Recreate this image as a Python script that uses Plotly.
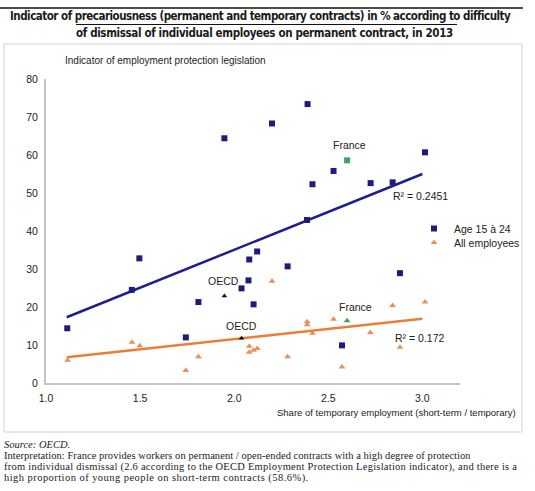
import plotly.graph_objects as go

# ---------------- data ----------------
age_x = [1.948, 2.201, 2.390, 2.528, 2.416, 2.725, 2.842, 3.014, 2.387, 1.113,
         1.456, 1.496, 1.810, 1.743, 2.080, 2.122, 2.076, 2.039, 2.103, 2.284,
         2.881, 2.573]
age_y = [64.4, 68.3, 73.4, 55.8, 52.3, 52.6, 52.8, 60.7, 42.9, 14.4,
         24.5, 32.8, 21.3, 12.0, 32.5, 34.6, 27.0, 24.9, 20.7, 30.7,
         28.9, 9.9]

all_x = [1.115, 1.457, 1.498, 1.743, 1.810, 2.201, 2.080, 2.080, 2.103, 2.122,
         2.284, 2.388, 2.388, 2.416, 2.528, 2.573, 2.723, 2.842, 3.014, 2.881]
all_y = [6.0, 10.7, 9.8, 3.3, 6.9, 26.8, 9.7, 8.1, 8.6, 9.1,
         6.9, 16.1, 15.3, 13.1, 16.8, 4.2, 13.2, 20.4, 21.3, 9.4]

france_x = 2.6
france_age_y = 58.6
france_all_y = 16.4

oecd_age_x, oecd_age_y = 1.948, 22.9
oecd_all_x, oecd_all_y = 2.039, 11.8

trend_x = [1.11, 3.0]
age_trend_y = [17.3, 55.0]
all_trend_y = [6.8, 16.9]

r2_age = "R² = 0.2451"
r2_all = "R² = 0.172"

x_ticks = [1.0, 1.5, 2.0, 2.5, 3.0]
y_ticks = [0, 10, 20, 30, 40, 50, 60, 70, 80]

title_line1 = "Indicator of precariousness (permanent and temporary contracts) in % according to difficulty"
title_line2 = "of dismissal of individual employees on permanent contract, in 2013"
y_title = "Indicator of employment protection legislation"
x_title = "Share of temporary employment (short-term / temporary)"
source_text = "Source: OECD."
interp_lines = [
    "Interpretation: France provides workers on permanent / open-ended contracts with a high degree of protection",
    "from individual dismissal (2.6 according to the OECD Employment Protection Legislation indicator), and there is a",
    "high proportion of young people on short-term contracts (58.6%).",
]

# ---------------- styling ----------------
NAVY = "#1c1c7e"
ORANGE = "#ec7d35"
TRI = "#e8905a"
GREEN = "#3aa562"
SANS = "Liberation Sans, Arial, sans-serif"
SERIF = "Liberation Serif, Times New Roman, serif"
TITLE_FONT = "DejaVu Sans Condensed, DejaVu Sans, sans-serif"
TXT = "#222222"

W, H = 535, 491
L, R, T, B = 46, 75, 79, 108
pw = W - L - R
ph = H - T - B


def px_x(px):
    return (px - L) / pw


def px_y(py):
    return (H - B - py) / ph


def spaced(text, ls):
    return '<span style="letter-spacing:%spx">%s</span>' % (ls, text)


fig = go.Figure()

# trend lines
fig.add_trace(go.Scatter(x=trend_x, y=age_trend_y, mode="lines",
                         line=dict(color="#1f1f8c", width=2.5), showlegend=False, hoverinfo="skip"))
fig.add_trace(go.Scatter(x=trend_x, y=all_trend_y, mode="lines",
                         line=dict(color=ORANGE, width=2.5), showlegend=False, hoverinfo="skip"))

# series
fig.add_trace(go.Scatter(x=age_x, y=age_y, mode="markers", name="Age 15 à 24", legend="legend",
                         marker=dict(symbol="square", size=6, color=NAVY)))
fig.add_trace(go.Scatter(x=all_x, y=all_y, mode="markers", name="All employees", legend="legend2",
                         marker=dict(symbol="triangle-up", size=6, color=TRI)))

# France & OECD highlighted points
fig.add_trace(go.Scatter(x=[france_x], y=[france_age_y], mode="markers", showlegend=False,
                         marker=dict(symbol="square", size=6, color=GREEN)))
fig.add_trace(go.Scatter(x=[france_x], y=[france_all_y], mode="markers", showlegend=False,
                         marker=dict(symbol="triangle-up", size=6, color=GREEN)))
fig.add_trace(go.Scatter(x=[oecd_age_x, oecd_all_x], y=[oecd_age_y, oecd_all_y], mode="markers",
                         showlegend=False, marker=dict(symbol="triangle-up", size=5, color="#111111")))

ann_font = dict(family=SANS, size=10.5, color=TXT)
serif_font = dict(family=SERIF, size=10.5, color=TXT)
title_font = dict(family=TITLE_FONT, size=11.5, color="#1a1a1a")

annotations = [
    dict(x=france_x, y=france_age_y, text="France", showarrow=False, xshift=2, yshift=15, font=ann_font),
    dict(x=france_x, y=france_all_y, text="France", showarrow=False, xshift=8, yshift=14, font=ann_font),
    dict(x=oecd_age_x, y=oecd_age_y, text="OECD", showarrow=False, xshift=-1, yshift=15, font=ann_font),
    dict(x=oecd_all_x, y=oecd_all_y, text="OECD", showarrow=False, xshift=0, yshift=12, font=ann_font),
    dict(x=trend_x[1], y=age_trend_y[1], text=r2_age, showarrow=False, xanchor="left",
         xshift=-31, yshift=-22, font=ann_font),
    dict(x=trend_x[1], y=all_trend_y[1], text=r2_all, showarrow=False, xanchor="left",
         xshift=-29, yshift=-19, font=ann_font),
    # axis titles
    dict(xref="paper", yref="paper", x=px_x(63), y=px_y(60), text=y_title, showarrow=False,
         xanchor="left", yanchor="middle", font=dict(family=SANS, size=10, color=TXT)),
    dict(xref="paper", yref="paper", x=px_x(518), y=px_y(412), text=x_title, showarrow=False,
         xanchor="right", yanchor="middle", font=dict(family=SANS, size=9.5, color=TXT)),
    # title (two lines)
    dict(xref="paper", yref="paper", x=px_x(260.5), y=px_y(16.5), text="<b>" + spaced(title_line1, -0.5) + "</b>",
         showarrow=False, xanchor="center", yanchor="middle", font=title_font),
    dict(xref="paper", yref="paper", x=px_x(264.5), y=px_y(32.5), text="<b>" + spaced(title_line2, -0.36) + "</b>",
         showarrow=False, xanchor="center", yanchor="middle", font=title_font),
    # footer
    dict(xref="paper", yref="paper", x=px_x(2), y=px_y(444), text="<i>" + source_text + "</i>", showarrow=False,
         xanchor="left", yanchor="middle", font=serif_font),
    dict(xref="paper", yref="paper", x=px_x(2), y=px_y(455.5), text=spaced(interp_lines[0], 0.05), showarrow=False,
         xanchor="left", yanchor="middle", font=serif_font),
    dict(xref="paper", yref="paper", x=px_x(2), y=px_y(466.5), text=spaced(interp_lines[1], 0.25), showarrow=False,
         xanchor="left", yanchor="middle", font=serif_font),
    dict(xref="paper", yref="paper", x=px_x(2), y=px_y(477.5), text=spaced(interp_lines[2], 0.45), showarrow=False,
         xanchor="left", yanchor="middle", font=serif_font),
]

shapes = [
    dict(type="line", xref="paper", yref="paper", x0=px_x(0), x1=px_x(523), y0=px_y(8), y1=px_y(8),
         line=dict(color="#111111", width=1.5)),
    dict(type="line", xref="paper", yref="paper", x0=px_x(76), x1=px_x(457), y0=px_y(24.5), y1=px_y(24.5),
         line=dict(color="#111111", width=1)),
    dict(type="rect", xref="paper", yref="paper", x0=px_x(4), x1=px_x(522), y0=px_y(432), y1=px_y(44),
         line=dict(color="#d4d4d4", width=1), layer="below"),
]

legend_common = dict(xanchor="left", yanchor="top", bgcolor="rgba(0,0,0,0)",
                     font=dict(family=SANS, size=10.5, color=TXT), tracegroupgap=0)

fig.update_layout(
    width=W, height=H,
    margin=dict(l=L, r=R, t=T, b=B, autoexpand=False),
    paper_bgcolor="white", plot_bgcolor="white",
    font=dict(family=SANS, size=10.5, color=TXT),
    annotations=annotations,
    shapes=shapes,
    legend=dict(x=px_x(414), y=px_y(214), **legend_common),
    legend2=dict(x=px_x(414), y=px_y(228), **legend_common),
    xaxis=dict(range=[1.0, 3.2], tickvals=x_ticks, tickformat=".1f", showgrid=False, zeroline=False,
               showline=True, linecolor="#c4c4c4", linewidth=2, ticks="", ticklabelstandoff=4,
               tickfont=dict(family=SANS, size=10.5, color=TXT)),
    yaxis=dict(range=[0, 80], tickvals=y_ticks, showgrid=False, zeroline=False,
               showline=True, linecolor="#c4c4c4", linewidth=2, ticks="", ticklabelstandoff=4,
               tickfont=dict(family=SANS, size=10.5, color=TXT)),
)

fig.write_html("out.html", config={"displayModeBar": False},
               post_script="document.body.style.margin='0px';")
